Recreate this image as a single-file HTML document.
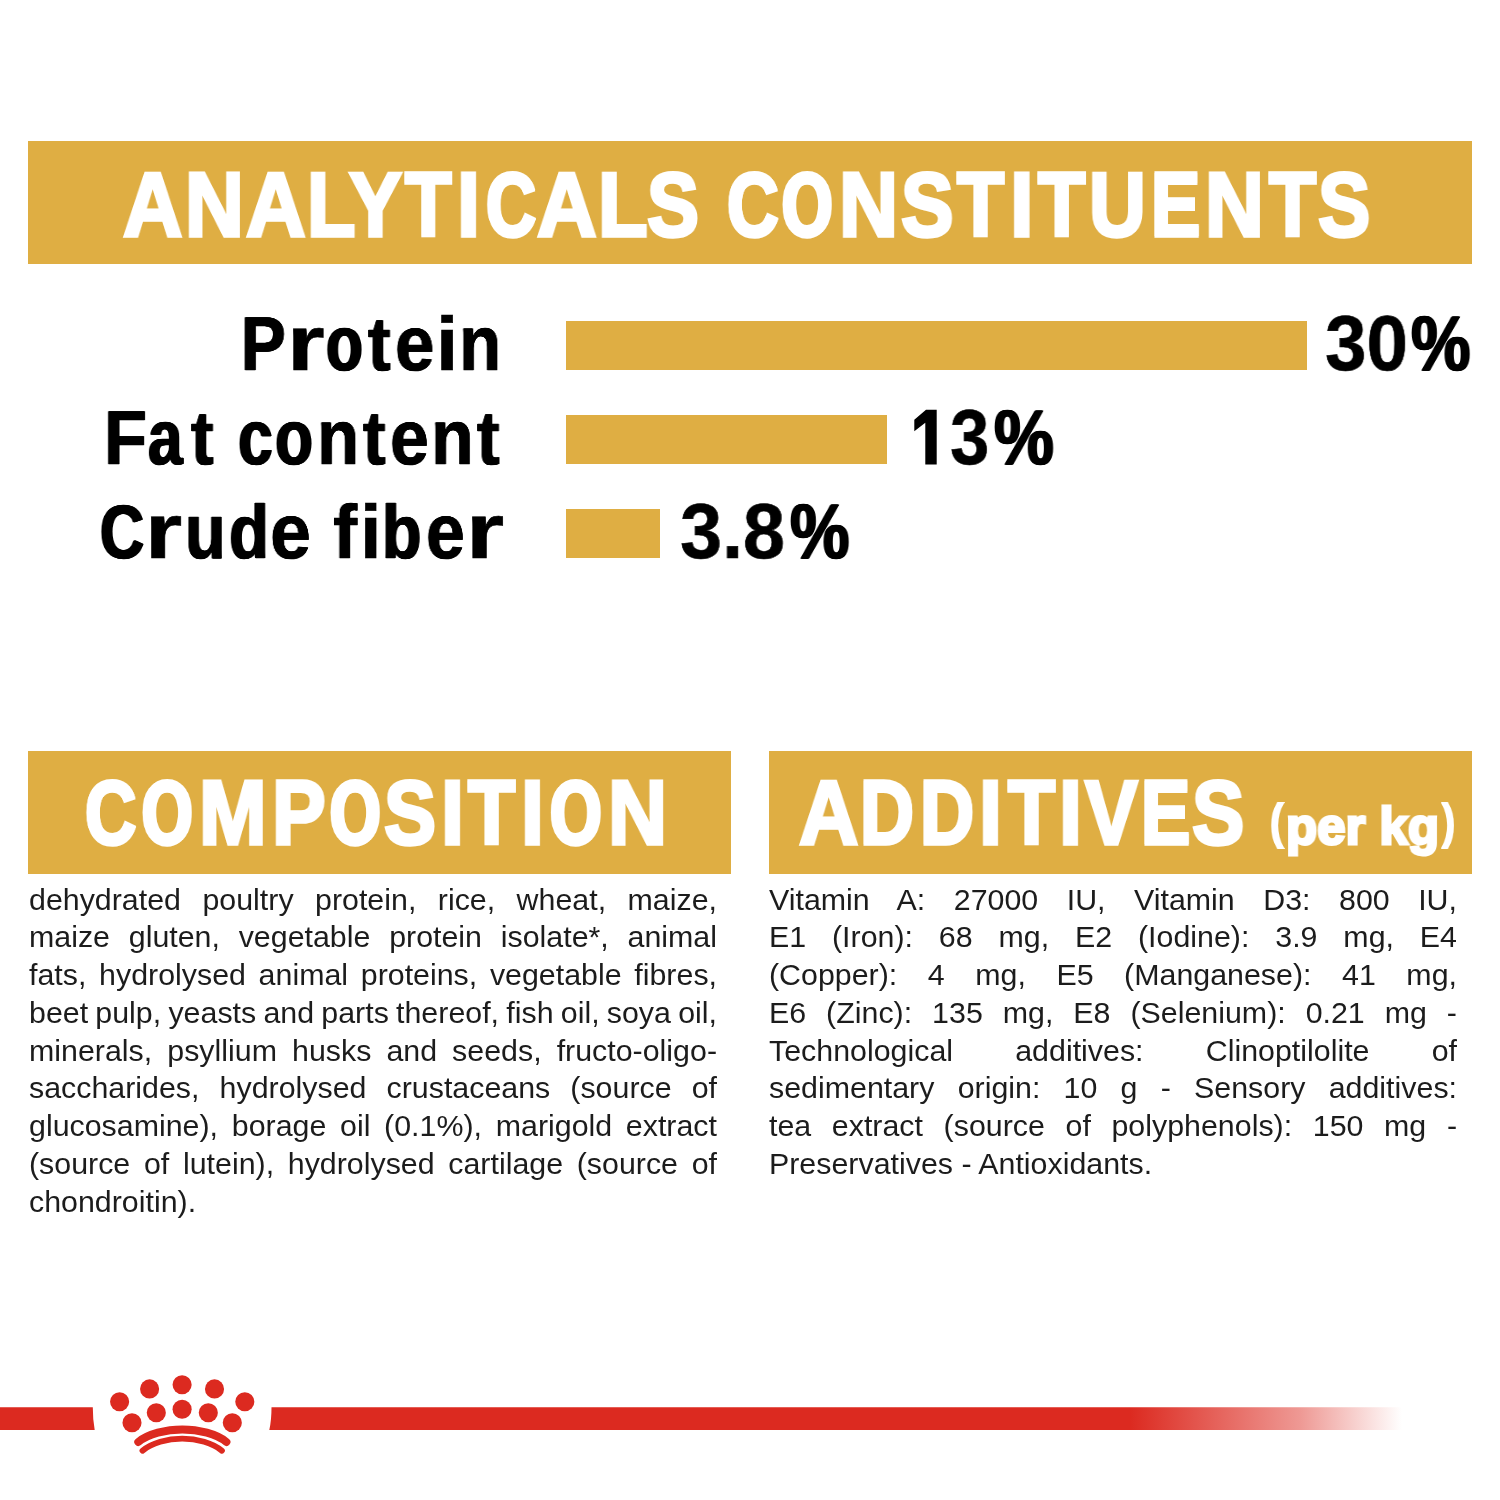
<!DOCTYPE html>
<html>
<head>
<meta charset="utf-8">
<title>Analyticals Constituents</title>
<style>
html,body{margin:0;padding:0;background:#fff;}
body{width:1500px;height:1500px;position:relative;overflow:hidden;font-family:"Liberation Sans",sans-serif;}
.g{position:absolute;background:#dfae43;}
.t{position:absolute;white-space:pre;line-height:1;transform-origin:0 0;font-weight:bold;will-change:transform;}
.h{color:#fff;}
.k{color:#000;}
.p{position:absolute;color:#1c1c1c;font-size:30.2px;line-height:1;white-space:pre;transform-origin:0 0;transform:scaleX(1.006);font-weight:normal;-webkit-text-stroke:0px #1c1c1c;will-change:transform;}
</style>
</head>
<body>
<!-- bars -->
<div class="g" style="left:28px;top:141px;width:1444px;height:123px;"></div>
<div class="g" style="left:566px;top:321px;width:741px;height:49px;"></div>
<div class="g" style="left:566px;top:415px;width:321px;height:49px;"></div>
<div class="g" style="left:566px;top:509px;width:94px;height:49px;"></div>
<div class="g" style="left:28px;top:751px;width:703px;height:123px;"></div>
<div class="g" style="left:769px;top:751px;width:703px;height:123px;"></div>
<!-- headings, labels, values -->
<div class="t k" id="v1a" style="left:1324.9px;top:304.27px;font-size:78px;-webkit-text-stroke:0.6px #000;transform:scaleX(0.9545);">30</div>
<div class="t k" id="v1b" style="left:1411.2px;top:304.27px;font-size:78px;text-shadow:1.2px 0 0 #000,-1.2px 0 0 #000,0.6px 0 0 #000,-0.6px 0 0 #000;-webkit-text-stroke:0.6px #000;transform:scaleX(0.8575);">%</div>
<div class="t k" id="v2a" style="left:950.06px;top:397.57px;font-size:78px;-webkit-text-stroke:0.6px #000;transform:scaleX(0.9048);">3</div>
<div class="t k" id="v2b" style="left:993.63px;top:397.57px;font-size:78px;text-shadow:1.2px 0 0 #000,-1.2px 0 0 #000,0.6px 0 0 #000,-0.6px 0 0 #000;-webkit-text-stroke:0.6px #000;transform:scaleX(0.8625);">%</div>
<div class="t k" id="v3a" style="left:680.05px;top:491.57px;font-size:78px;-webkit-text-stroke:0.6px #000;transform:scaleX(0.9684);">3.8</div>
<div class="t k" id="v3b" style="left:789.69px;top:491.57px;font-size:78px;text-shadow:1.2px 0 0 #000,-1.2px 0 0 #000,0.6px 0 0 #000,-0.6px 0 0 #000;-webkit-text-stroke:0.6px #000;transform:scaleX(0.8575);">%</div>
<div class="t h" id="h4a" style="left:1269.51px;top:797.22px;font-size:49px;-webkit-text-stroke:2px #fff;transform:scaleX(0.81);">(</div>
<div class="t h" id="h4b" style="left:1286.09px;top:799.78px;font-size:52px;-webkit-text-stroke:3px #fff;transform:scaleX(0.9808);">per kg</div>
<div class="t h" id="h4c" style="left:1441.65px;top:797.22px;font-size:49px;-webkit-text-stroke:2px #fff;transform:scaleX(0.8003);">)</div>
<div class="t h" id="h1_00" style="left:122.68px;top:159.71px;font-size:90.4px;text-shadow:0.65px 0 0 #fff,-0.65px 0 0 #fff,0.32px 0 0 #fff,-0.32px 0 0 #fff;-webkit-text-stroke:3.5px #fff;transform:scaleX(0.9095);">A</div>
<div class="t h" id="h1_01" style="left:184.91px;top:159.71px;font-size:90.4px;text-shadow:0.74px 0 0 #fff,-0.74px 0 0 #fff,0.37px 0 0 #fff,-0.37px 0 0 #fff;-webkit-text-stroke:3.5px #fff;transform:scaleX(0.8996);">N</div>
<div class="t h" id="h1_02" style="left:245.53px;top:159.71px;font-size:90.4px;text-shadow:0.62px 0 0 #fff,-0.62px 0 0 #fff,0.31px 0 0 #fff,-0.31px 0 0 #fff;-webkit-text-stroke:3.5px #fff;transform:scaleX(0.9123);">A</div>
<div class="t h" id="h1_03" style="left:306.54px;top:159.71px;font-size:90.4px;text-shadow:0.96px 0 0 #fff,-0.96px 0 0 #fff,0.48px 0 0 #fff,-0.48px 0 0 #fff;-webkit-text-stroke:3.5px #fff;transform:scaleX(0.8786);">L</div>
<div class="t h" id="h1_04" style="left:349.32px;top:159.71px;font-size:90.4px;text-shadow:0.99px 0 0 #fff,-0.99px 0 0 #fff,0.49px 0 0 #fff,-0.49px 0 0 #fff;-webkit-text-stroke:3.5px #fff;transform:scaleX(0.8756);">Y</div>
<div class="t h" id="h1_05" style="left:405.05px;top:159.71px;font-size:90.4px;text-shadow:1.33px 0 0 #fff,-1.33px 0 0 #fff,0.67px 0 0 #fff,-0.67px 0 0 #fff;-webkit-text-stroke:3.5px #fff;transform:scaleX(0.8437);">T</div>
<div class="t h" id="h1_06" style="left:456.77px;top:159.71px;font-size:90.4px;text-shadow:0.6px 0 0 #fff,-0.6px 0 0 #fff,0.3px 0 0 #fff,-0.3px 0 0 #fff;-webkit-text-stroke:3.5px #fff;transform:scaleX(0.9138);">I</div>
<div class="t h" id="h1_07" style="left:486.46px;top:159.71px;font-size:90.4px;text-shadow:2.28px 0 0 #fff,-2.28px 0 0 #fff,1.14px 0 0 #fff,-1.14px 0 0 #fff;-webkit-text-stroke:3.5px #fff;transform:scaleX(0.767);">C</div>
<div class="t h" id="h1_08" style="left:536.53px;top:159.71px;font-size:90.4px;text-shadow:0.62px 0 0 #fff,-0.62px 0 0 #fff,0.31px 0 0 #fff,-0.31px 0 0 #fff;-webkit-text-stroke:3.5px #fff;transform:scaleX(0.9123);">A</div>
<div class="t h" id="h1_09" style="left:598.08px;top:159.71px;font-size:90.4px;text-shadow:0.75px 0 0 #fff,-0.75px 0 0 #fff,0.38px 0 0 #fff,-0.38px 0 0 #fff;-webkit-text-stroke:3.5px #fff;transform:scaleX(0.8988);">L</div>
<div class="t h" id="h1_10" style="left:647.33px;top:159.71px;font-size:90.4px;text-shadow:1.14px 0 0 #fff,-1.14px 0 0 #fff,0.57px 0 0 #fff,-0.57px 0 0 #fff;-webkit-text-stroke:3.5px #fff;transform:scaleX(0.861);">S</div>
<div class="t h" id="h1_11" style="left:726.51px;top:159.71px;font-size:90.4px;text-shadow:1.96px 0 0 #fff,-1.96px 0 0 #fff,0.98px 0 0 #fff,-0.98px 0 0 #fff;-webkit-text-stroke:3.5px #fff;transform:scaleX(0.7911);">C</div>
<div class="t h" id="h1_12" style="left:781.56px;top:159.71px;font-size:90.4px;text-shadow:3.02px 0 0 #fff,-3.02px 0 0 #fff,1.51px 0 0 #fff,-1.51px 0 0 #fff;-webkit-text-stroke:3.5px #fff;transform:scaleX(0.7162);">O</div>
<div class="t h" id="h1_13" style="left:838.86px;top:159.71px;font-size:90.4px;text-shadow:0.69px 0 0 #fff,-0.69px 0 0 #fff,0.35px 0 0 #fff,-0.35px 0 0 #fff;-webkit-text-stroke:3.5px #fff;transform:scaleX(0.9046);">N</div>
<div class="t h" id="h1_14" style="left:901.15px;top:159.71px;font-size:90.4px;text-shadow:1.03px 0 0 #fff,-1.03px 0 0 #fff,0.52px 0 0 #fff,-0.52px 0 0 #fff;-webkit-text-stroke:3.5px #fff;transform:scaleX(0.8714);">S</div>
<div class="t h" id="h1_15" style="left:956.68px;top:159.71px;font-size:90.4px;text-shadow:1.22px 0 0 #fff,-1.22px 0 0 #fff,0.61px 0 0 #fff,-0.61px 0 0 #fff;-webkit-text-stroke:3.5px #fff;transform:scaleX(0.8534);">T</div>
<div class="t h" id="h1_16" style="left:1009.78px;top:159.71px;font-size:90.4px;text-shadow:0.4px 0 0 #fff,-0.4px 0 0 #fff,0.2px 0 0 #fff,-0.2px 0 0 #fff;-webkit-text-stroke:3.5px #fff;transform:scaleX(0.9354);">I</div>
<div class="t h" id="h1_17" style="left:1037.66px;top:159.71px;font-size:90.4px;text-shadow:1.17px 0 0 #fff,-1.17px 0 0 #fff,0.58px 0 0 #fff,-0.58px 0 0 #fff;-webkit-text-stroke:3.5px #fff;transform:scaleX(0.8587);">T</div>
<div class="t h" id="h1_18" style="left:1088.85px;top:159.71px;font-size:90.4px;text-shadow:1.06px 0 0 #fff,-1.06px 0 0 #fff,0.53px 0 0 #fff,-0.53px 0 0 #fff;-webkit-text-stroke:3.5px #fff;transform:scaleX(0.8689);">U</div>
<div class="t h" id="h1_19" style="left:1150.68px;top:159.71px;font-size:90.4px;text-shadow:1.65px 0 0 #fff,-1.65px 0 0 #fff,0.83px 0 0 #fff,-0.83px 0 0 #fff;-webkit-text-stroke:3.5px #fff;transform:scaleX(0.8161);">E</div>
<div class="t h" id="h1_20" style="left:1204.79px;top:159.71px;font-size:90.4px;text-shadow:0.74px 0 0 #fff,-0.74px 0 0 #fff,0.37px 0 0 #fff,-0.37px 0 0 #fff;-webkit-text-stroke:3.5px #fff;transform:scaleX(0.8996);">N</div>
<div class="t h" id="h1_21" style="left:1268.58px;top:159.71px;font-size:90.4px;text-shadow:1.22px 0 0 #fff,-1.22px 0 0 #fff,0.61px 0 0 #fff,-0.61px 0 0 #fff;-webkit-text-stroke:3.5px #fff;transform:scaleX(0.8534);">T</div>
<div class="t h" id="h1_22" style="left:1317.81px;top:159.71px;font-size:90.4px;text-shadow:1.07px 0 0 #fff,-1.07px 0 0 #fff,0.53px 0 0 #fff,-0.53px 0 0 #fff;-webkit-text-stroke:3.5px #fff;transform:scaleX(0.8677);">S</div>
<div class="t h" id="h2_00" style="left:85.36px;top:768.21px;font-size:90.4px;text-shadow:2.01px 0 0 #fff,-2.01px 0 0 #fff,1.01px 0 0 #fff,-1.01px 0 0 #fff;-webkit-text-stroke:3.5px #fff;transform:scaleX(0.787);">C</div>
<div class="t h" id="h2_01" style="left:141.56px;top:768.21px;font-size:90.4px;text-shadow:3.02px 0 0 #fff,-3.02px 0 0 #fff,1.51px 0 0 #fff,-1.51px 0 0 #fff;-webkit-text-stroke:3.5px #fff;transform:scaleX(0.7162);">O</div>
<div class="t h" id="h2_02" style="left:199.08px;top:768.21px;font-size:90.4px;text-shadow:0.77px 0 0 #fff,-0.77px 0 0 #fff,0.39px 0 0 #fff,-0.39px 0 0 #fff;-webkit-text-stroke:3.5px #fff;transform:scaleX(0.8968);">M</div>
<div class="t h" id="h2_03" style="left:272.29px;top:768.21px;font-size:90.4px;text-shadow:0.84px 0 0 #fff,-0.84px 0 0 #fff,0.42px 0 0 #fff,-0.42px 0 0 #fff;-webkit-text-stroke:3.5px #fff;transform:scaleX(0.8903);">P</div>
<div class="t h" id="h2_04" style="left:329.81px;top:768.21px;font-size:90.4px;text-shadow:3.01px 0 0 #fff,-3.01px 0 0 #fff,1.51px 0 0 #fff,-1.51px 0 0 #fff;-webkit-text-stroke:3.5px #fff;transform:scaleX(0.7168);">O</div>
<div class="t h" id="h2_05" style="left:383.93px;top:768.21px;font-size:90.4px;text-shadow:1.13px 0 0 #fff,-1.13px 0 0 #fff,0.56px 0 0 #fff,-0.56px 0 0 #fff;-webkit-text-stroke:3.5px #fff;transform:scaleX(0.8622);">S</div>
<div class="t h" id="h2_06" style="left:440.91px;top:768.21px;font-size:90.4px;text-shadow:0.6px 0 0 #fff,-0.6px 0 0 #fff,0.3px 0 0 #fff,-0.3px 0 0 #fff;-webkit-text-stroke:3.5px #fff;transform:scaleX(0.9138);">I</div>
<div class="t h" id="h2_07" style="left:468.07px;top:768.21px;font-size:90.4px;text-shadow:1.21px 0 0 #fff,-1.21px 0 0 #fff,0.61px 0 0 #fff,-0.61px 0 0 #fff;-webkit-text-stroke:3.5px #fff;transform:scaleX(0.8547);">T</div>
<div class="t h" id="h2_08" style="left:520.87px;top:768.21px;font-size:90.4px;text-shadow:0.64px 0 0 #fff,-0.64px 0 0 #fff,0.32px 0 0 #fff,-0.32px 0 0 #fff;-webkit-text-stroke:3.5px #fff;transform:scaleX(0.9106);">I</div>
<div class="t h" id="h2_09" style="left:549.77px;top:768.21px;font-size:90.4px;text-shadow:2.77px 0 0 #fff,-2.77px 0 0 #fff,1.39px 0 0 #fff,-1.39px 0 0 #fff;-webkit-text-stroke:3.5px #fff;transform:scaleX(0.7324);">O</div>
<div class="t h" id="h2_10" style="left:607.58px;top:768.21px;font-size:90.4px;text-shadow:0.69px 0 0 #fff,-0.69px 0 0 #fff,0.35px 0 0 #fff,-0.35px 0 0 #fff;-webkit-text-stroke:3.5px #fff;transform:scaleX(0.9046);">N</div>
<div class="t h" id="h3_00" style="left:798.84px;top:768.21px;font-size:90.4px;text-shadow:0.65px 0 0 #fff,-0.65px 0 0 #fff,0.32px 0 0 #fff,-0.32px 0 0 #fff;-webkit-text-stroke:3.5px #fff;transform:scaleX(0.9092);">A</div>
<div class="t h" id="h3_01" style="left:859.91px;top:768.21px;font-size:90.4px;text-shadow:1.51px 0 0 #fff,-1.51px 0 0 #fff,0.75px 0 0 #fff,-0.75px 0 0 #fff;-webkit-text-stroke:3.5px #fff;transform:scaleX(0.8284);">D</div>
<div class="t h" id="h3_02" style="left:920.08px;top:768.21px;font-size:90.4px;text-shadow:1.48px 0 0 #fff,-1.48px 0 0 #fff,0.74px 0 0 #fff,-0.74px 0 0 #fff;-webkit-text-stroke:3.5px #fff;transform:scaleX(0.8306);">D</div>
<div class="t h" id="h3_03" style="left:979.2px;top:768.21px;font-size:90.4px;text-shadow:0.6px 0 0 #fff,-0.6px 0 0 #fff,0.3px 0 0 #fff,-0.3px 0 0 #fff;-webkit-text-stroke:3.5px #fff;transform:scaleX(0.9138);">I</div>
<div class="t h" id="h3_04" style="left:1008.28px;top:768.21px;font-size:90.4px;text-shadow:1.22px 0 0 #fff,-1.22px 0 0 #fff,0.61px 0 0 #fff,-0.61px 0 0 #fff;-webkit-text-stroke:3.5px #fff;transform:scaleX(0.8534);">T</div>
<div class="t h" id="h3_05" style="left:1059.2px;top:768.21px;font-size:90.4px;text-shadow:0.6px 0 0 #fff,-0.6px 0 0 #fff,0.3px 0 0 #fff,-0.3px 0 0 #fff;-webkit-text-stroke:3.5px #fff;transform:scaleX(0.9138);">I</div>
<div class="t h" id="h3_06" style="left:1084.73px;top:768.21px;font-size:90.4px;text-shadow:1.01px 0 0 #fff,-1.01px 0 0 #fff,0.51px 0 0 #fff,-0.51px 0 0 #fff;-webkit-text-stroke:3.5px #fff;transform:scaleX(0.8731);">V</div>
<div class="t h" id="h3_07" style="left:1141.28px;top:768.21px;font-size:90.4px;text-shadow:1.65px 0 0 #fff,-1.65px 0 0 #fff,0.83px 0 0 #fff,-0.83px 0 0 #fff;-webkit-text-stroke:3.5px #fff;transform:scaleX(0.8161);">E</div>
<div class="t h" id="h3_08" style="left:1191.92px;top:768.21px;font-size:90.4px;text-shadow:1.07px 0 0 #fff,-1.07px 0 0 #fff,0.53px 0 0 #fff,-0.53px 0 0 #fff;-webkit-text-stroke:3.5px #fff;transform:scaleX(0.8677);">S</div>
<div class="t k" id="l1_00" style="left:241.31px;top:306.56px;font-size:75.3px;text-shadow:0.75px 0 0 #000,-0.75px 0 0 #000,0.38px 0 0 #000,-0.38px 0 0 #000;-webkit-text-stroke:0.6px #000;transform:scaleX(0.8879);">P</div>
<div class="t k" id="l1_01" style="left:286.86px;top:304.7px;font-size:77.5px;-webkit-text-stroke:0.6px #000;transform:scaleX(1.2482);">r</div>
<div class="t k" id="l1_02" style="left:326.48px;top:304.7px;font-size:77.5px;text-shadow:1.53px 0 0 #000,-1.53px 0 0 #000,0.76px 0 0 #000,-0.76px 0 0 #000;-webkit-text-stroke:0.6px #000;transform:scaleX(0.7751);">o</div>
<div class="t k" id="l1_03" style="left:367.93px;top:306.56px;font-size:75.3px;text-shadow:0.67px 0 0 #000,-0.67px 0 0 #000,0.34px 0 0 #000,-0.34px 0 0 #000;-webkit-text-stroke:0.6px #000;transform:scaleX(0.8994);">t</div>
<div class="t k" id="l1_04" style="left:395.01px;top:304.7px;font-size:77.5px;text-shadow:0.41px 0 0 #000,-0.41px 0 0 #000,0.2px 0 0 #000,-0.2px 0 0 #000;-webkit-text-stroke:0.6px #000;transform:scaleX(0.9131);">e</div>
<div class="t k" id="l1_05" style="left:435.69px;top:306.56px;font-size:75.3px;-webkit-text-stroke:0.6px #000;transform:scaleX(1.0687);">i</div>
<div class="t k" id="l1_06" style="left:458.93px;top:304.7px;font-size:77.5px;text-shadow:0.56px 0 0 #000,-0.56px 0 0 #000,0.28px 0 0 #000,-0.28px 0 0 #000;-webkit-text-stroke:0.6px #000;transform:scaleX(0.8909);">n</div>
<div class="t k" id="l2_00" style="left:103.93px;top:400.56px;font-size:75.3px;text-shadow:0.43px 0 0 #000,-0.43px 0 0 #000,0.22px 0 0 #000,-0.22px 0 0 #000;-webkit-text-stroke:0.6px #000;transform:scaleX(0.9344);">F</div>
<div class="t k" id="l2_01" style="left:147.78px;top:398.7px;font-size:77.5px;text-shadow:1.3px 0 0 #000,-1.3px 0 0 #000,0.65px 0 0 #000,-0.65px 0 0 #000;-webkit-text-stroke:0.6px #000;transform:scaleX(0.7997);">a</div>
<div class="t k" id="l2_02" style="left:191.34px;top:400.56px;font-size:75.3px;text-shadow:0.67px 0 0 #000,-0.67px 0 0 #000,0.34px 0 0 #000,-0.34px 0 0 #000;-webkit-text-stroke:0.6px #000;transform:scaleX(0.8994);">t</div>
<div class="t k" id="l2_03" style="left:238.05px;top:398.7px;font-size:77.5px;text-shadow:1.25px 0 0 #000,-1.25px 0 0 #000,0.62px 0 0 #000,-0.62px 0 0 #000;-webkit-text-stroke:0.6px #000;transform:scaleX(0.8055);">c</div>
<div class="t k" id="l2_04" style="left:275.46px;top:398.7px;font-size:77.5px;text-shadow:1.28px 0 0 #000,-1.28px 0 0 #000,0.64px 0 0 #000,-0.64px 0 0 #000;-webkit-text-stroke:0.6px #000;transform:scaleX(0.802);">o</div>
<div class="t k" id="l2_05" style="left:316.7px;top:398.7px;font-size:77.5px;text-shadow:0.56px 0 0 #000,-0.56px 0 0 #000,0.28px 0 0 #000,-0.28px 0 0 #000;-webkit-text-stroke:0.6px #000;transform:scaleX(0.8909);">n</div>
<div class="t k" id="l2_06" style="left:362.7px;top:400.56px;font-size:75.3px;text-shadow:0.67px 0 0 #000,-0.67px 0 0 #000,0.34px 0 0 #000,-0.34px 0 0 #000;-webkit-text-stroke:0.6px #000;transform:scaleX(0.8994);">t</div>
<div class="t k" id="l2_07" style="left:389.76px;top:398.7px;font-size:77.5px;text-shadow:0.51px 0 0 #000,-0.51px 0 0 #000,0.25px 0 0 #000,-0.25px 0 0 #000;-webkit-text-stroke:0.6px #000;transform:scaleX(0.899);">e</div>
<div class="t k" id="l2_08" style="left:430.99px;top:398.7px;font-size:77.5px;text-shadow:0.49px 0 0 #000,-0.49px 0 0 #000,0.24px 0 0 #000,-0.24px 0 0 #000;-webkit-text-stroke:0.6px #000;transform:scaleX(0.9017);">n</div>
<div class="t k" id="l2_09" style="left:477.12px;top:400.56px;font-size:75.3px;text-shadow:0.67px 0 0 #000,-0.67px 0 0 #000,0.34px 0 0 #000,-0.34px 0 0 #000;-webkit-text-stroke:0.6px #000;transform:scaleX(0.8994);">t</div>
<div class="t k" id="l3_00" style="left:100.43px;top:494.56px;font-size:75.3px;text-shadow:1.38px 0 0 #000,-1.38px 0 0 #000,0.69px 0 0 #000,-0.69px 0 0 #000;-webkit-text-stroke:0.6px #000;transform:scaleX(0.8093);">C</div>
<div class="t k" id="l3_01" style="left:145.41px;top:492.7px;font-size:77.5px;-webkit-text-stroke:0.6px #000;transform:scaleX(1.2334);">r</div>
<div class="t k" id="l3_02" style="left:185.07px;top:492.7px;font-size:77.5px;text-shadow:0.83px 0 0 #000,-0.83px 0 0 #000,0.42px 0 0 #000,-0.42px 0 0 #000;-webkit-text-stroke:0.6px #000;transform:scaleX(0.8554);">u</div>
<div class="t k" id="l3_03" style="left:228.72px;top:494.56px;font-size:75.3px;text-shadow:0.92px 0 0 #000,-0.92px 0 0 #000,0.46px 0 0 #000,-0.46px 0 0 #000;-webkit-text-stroke:0.6px #000;transform:scaleX(0.8654);">d</div>
<div class="t k" id="l3_04" style="left:269.8px;top:492.7px;font-size:77.5px;text-shadow:0.17px 0 0 #000,-0.17px 0 0 #000,0.08px 0 0 #000,-0.08px 0 0 #000;-webkit-text-stroke:0.6px #000;transform:scaleX(0.949);">e</div>
<div class="t k" id="l3_05" style="left:332.6px;top:494.56px;font-size:75.3px;text-shadow:0.3px 0 0 #000,-0.3px 0 0 #000,0.15px 0 0 #000,-0.15px 0 0 #000;-webkit-text-stroke:0.6px #000;transform:scaleX(0.9555);">f</div>
<div class="t k" id="l3_06" style="left:359.58px;top:494.56px;font-size:75.3px;-webkit-text-stroke:0.6px #000;transform:scaleX(1.0281);">i</div>
<div class="t k" id="l3_07" style="left:382.38px;top:494.56px;font-size:75.3px;text-shadow:0.99px 0 0 #000,-0.99px 0 0 #000,0.5px 0 0 #000,-0.5px 0 0 #000;-webkit-text-stroke:0.6px #000;transform:scaleX(0.856);">b</div>
<div class="t k" id="l3_08" style="left:425.96px;top:492.7px;font-size:77.5px;text-shadow:0.51px 0 0 #000,-0.51px 0 0 #000,0.25px 0 0 #000,-0.25px 0 0 #000;-webkit-text-stroke:0.6px #000;transform:scaleX(0.899);">e</div>
<div class="t k" id="l3_09" style="left:465.92px;top:492.7px;font-size:77.5px;-webkit-text-stroke:0.6px #000;transform:scaleX(1.2649);">r</div>
<!-- composition -->
<div class="p" id="c1" style="left:29px;top:884.74px;word-spacing:12.944px;">dehydrated poultry protein, rice, wheat, maize,</div>
<div class="p" id="c2" style="left:29px;top:922.47px;word-spacing:10.251px;">maize gluten, vegetable protein isolate*, animal</div>
<div class="p" id="c3" style="left:29px;top:960.19px;word-spacing:4.219px;">fats, hydrolysed animal proteins, vegetable fibres,</div>
<div class="p" id="c4" style="left:29px;top:997.91px;word-spacing:-1.203px;">beet pulp, yeasts and parts thereof, fish oil, soya oil,</div>
<div class="p" id="c5" style="left:29px;top:1035.64px;word-spacing:6.582px;">minerals, psyllium husks and seeds, fructo-oligo-</div>
<div class="p" id="c6" style="left:29px;top:1073.37px;word-spacing:11.575px;">saccharides, hydrolysed crustaceans (source of</div>
<div class="p" id="c7" style="left:29px;top:1111.09px;word-spacing:5.235px;">glucosamine), borage oil (0.1%), marigold extract</div>
<div class="p" id="c8" style="left:29px;top:1148.82px;word-spacing:5.201px;">(source of lutein), hydrolysed cartilage (source of</div>
<div class="p" id="c9" style="left:29px;top:1186.54px;word-spacing:0px;">chondroitin).</div>
<!-- additives -->
<div class="p" id="a1" style="left:769px;top:884.74px;word-spacing:19.951px;">Vitamin A: 27000 IU, Vitamin D3: 800 IU,</div>
<div class="p" id="a2" style="left:769px;top:922.47px;word-spacing:17.323px;">E1 (Iron): 68 mg, E2 (Iodine): 3.9 mg, E4</div>
<div class="p" id="a3" style="left:769px;top:960.19px;word-spacing:21.98px;">(Copper): 4 mg, E5 (Manganese): 41 mg,</div>
<div class="p" id="a4" style="left:769px;top:997.91px;word-spacing:11.455px;">E6 (Zinc): 135 mg, E8 (Selenium): 0.21 mg -</div>
<div class="p" id="a5" style="left:769px;top:1035.64px;word-spacing:53.449px;">Technological additives: Clinoptilolite of</div>
<div class="p" id="a6" style="left:769px;top:1073.37px;word-spacing:14.706px;">sedimentary origin: 10 g - Sensory additives:</div>
<div class="p" id="a7" style="left:769px;top:1111.09px;word-spacing:12.125px;">tea extract (source of polyphenols): 150 mg -</div>
<div class="p" id="a8" style="left:769px;top:1148.82px;word-spacing:0px;">Preservatives - Antioxidants.</div>
<svg style="position:absolute;left:900px;top:400px;" width="50" height="75" viewBox="900 400 50 75"><polygon points="936.7,409.8 936.7,464.5 925.3,464.5 925.3,422.7 914.3,431.3 914.3,419.7 926,409.8" fill="#000"/></svg>
<!-- footer -->
<svg style="position:absolute;left:0;top:1340px;" width="1500" height="160" viewBox="0 1340 1500 160">
<defs>
<linearGradient id="fade" gradientUnits="userSpaceOnUse" x1="269" x2="1402" y1="0" y2="0">
<stop offset="0" stop-color="#dc2a20"/>
<stop offset="0.76" stop-color="#dc2a20"/>
<stop offset="0.91" stop-color="#dc2a20" stop-opacity="0.48"/>
<stop offset="1" stop-color="#dc2a20" stop-opacity="0"/>
</linearGradient>
</defs>
<path d="M0 1407.2 L92.8 1407.2 Q92.8 1420 94.7 1430.1 L0 1430.1 Z" fill="#dc2a20"/>
<path d="M271.5 1407.2 L1402 1407.2 L1402 1430.1 L269.3 1430.1 Q271.5 1420 271.5 1407.2 Z" fill="url(#fade)"/>
<g fill="#dc2a20">
<circle cx="182.1" cy="1384.7" r="9.55"/>
<circle cx="149.6" cy="1388.9" r="9.55"/>
<circle cx="214.5" cy="1388.9" r="9.55"/>
<circle cx="119.6" cy="1401.7" r="9.55"/>
<circle cx="244.8" cy="1401.7" r="9.55"/>
<circle cx="182.1" cy="1409.3" r="9.55"/>
<circle cx="156.3" cy="1412.7" r="9.55"/>
<circle cx="208.3" cy="1412.7" r="9.55"/>
<circle cx="132" cy="1422.7" r="9.55"/>
<circle cx="232.3" cy="1422.7" r="9.55"/>
</g>
<path d="M138.3 1442 C148 1434 166 1429.4 182.35 1429.4 S216.7 1434 226.4 1442" fill="none" stroke="#dc2a20" stroke-width="8" stroke-linecap="round"/>
<path d="M142.5 1450.7 C151.5 1443 167.5 1438.6 182.2 1438.6 S212.9 1443 221.9 1450.7" fill="none" stroke="#dc2a20" stroke-width="5.9" stroke-linecap="round"/>
</svg>
</body>
</html>
